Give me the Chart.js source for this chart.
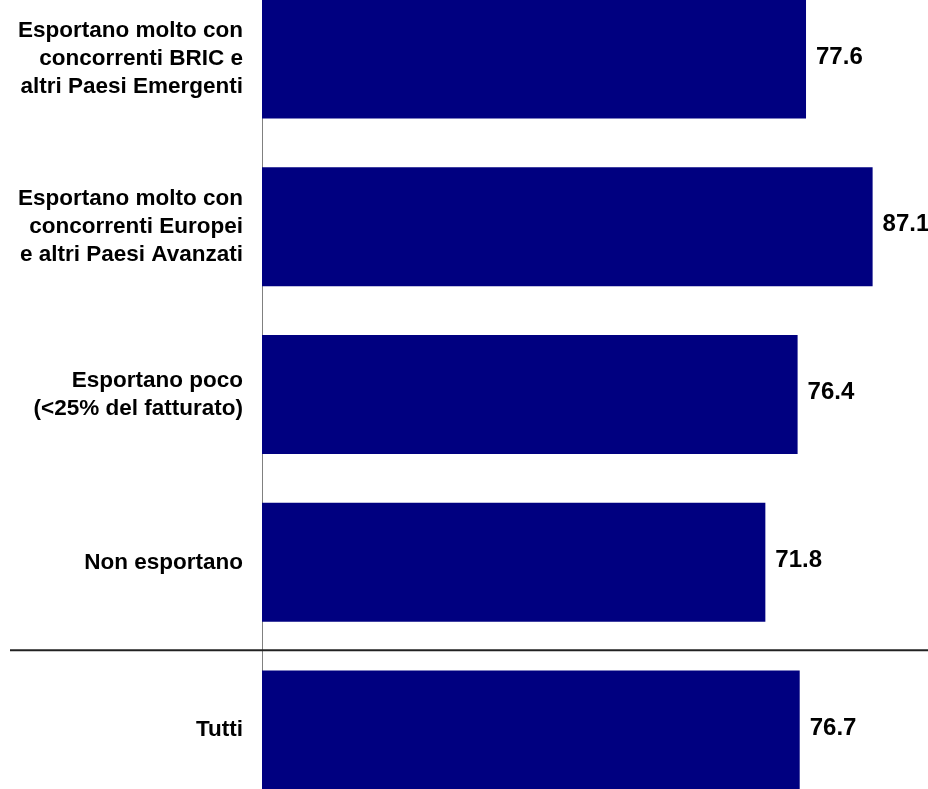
<!DOCTYPE html>
<html>
<head>
<meta charset="utf-8">
<script src="https://cdn.jsdelivr.net/npm/chart.js@4"></script>
<style>
  html, body { margin: 0; padding: 0; background: #fff; overflow: hidden; }
  #wrap { position: absolute; left: 0; top: -25px; width: 928px; height: 839px; }
</style>
</head>
<body>
<div id="wrap"><canvas id="exportChart" width="928" height="839"></canvas></div>
<script>
// categories (multi-line labels) and values
const categories = [
  ['Esportano molto con', 'concorrenti BRIC e', 'altri Paesi Emergenti'],
  ['Esportano molto con', 'concorrenti Europei', 'e altri Paesi Avanzati'],
  ['Esportano poco', '(<25% del fatturato)'],
  ['Non esportano'],
  ['Tutti']
];
const values = [77.6, 87.1, 76.4, 71.8, 76.7];

// value labels at the end of each bar
const valueLabels = {
  id: 'valueLabels',
  afterDatasetsDraw(chart) {
    const ctx = chart.ctx;
    const meta = chart.getDatasetMeta(0);
    ctx.save();
    ctx.font = 'bold 24px "Liberation Sans", Arial, sans-serif';
    ctx.fillStyle = '#000';
    ctx.textAlign = 'left';
    ctx.textBaseline = 'middle';
    meta.data.forEach((bar, i) => {
      ctx.fillText(values[i].toFixed(1), bar.x + 10, bar.y - 2);
    });
    ctx.restore();
  }
};

// line separating "Tutti" from the groups
const separator = {
  id: 'separator',
  afterDraw(chart) {
    const ctx = chart.ctx;
    const y = chart.scales.y.getPixelForValue(3.5) + 4;
    ctx.save();
    ctx.strokeStyle = '#222';
    ctx.lineWidth = 2;
    ctx.beginPath();
    ctx.moveTo(10, y);
    ctx.lineTo(chart.width, y);
    ctx.stroke();
    ctx.restore();
  }
};

const ctx = document.getElementById('exportChart').getContext('2d');
const exportChart = new Chart(ctx, {
  type: 'bar',
  data: {
    labels: categories,
    datasets: [{
      data: values,
      backgroundColor: '#000080',
      borderWidth: 0,
      barPercentage: 0.71,
      categoryPercentage: 1
    }]
  },
  options: {
    indexAxis: 'y',
    responsive: false,
    animation: false,
    layout: { padding: 0 },
    plugins: {
      legend: { display: false },
      tooltip: { enabled: false }
    },
    scales: {
      x: {
        display: false,
        min: 0,
        max: 95
      },
      y: {
        grid: { display: false, drawTicks: false },
        border: { display: true, color: '#808080', width: 1 },
        ticks: {
          color: '#000',
          padding: 19,
          font: { family: '"Liberation Sans", Arial, sans-serif', size: 22.5, weight: 'bold', lineHeight: 1.24 }
        },
        afterFit(scale) {
          scale.width = 262;
          scale.paddingTop = 0;
          scale.paddingBottom = 0;
        }
      }
    }
  },
  plugins: [valueLabels, separator]
});
</script>
</body>
</html>
